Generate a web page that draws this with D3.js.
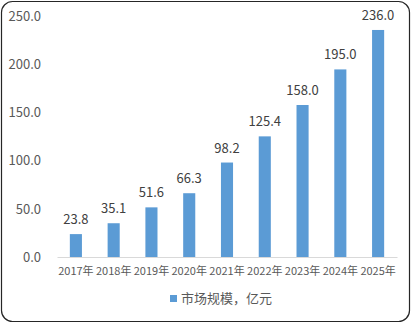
<!DOCTYPE html>
<html>
<head>
<meta charset="utf-8">
<script src="https://cdn.jsdelivr.net/npm/d3@7"></script>
<style>
  html, body { margin: 0; padding: 0; background: #fff; }
  svg { display: block; }
  text { font-family: "Noto Sans CJK SC", "Noto Sans", sans-serif; }
</style>
</head>
<body>
<svg id="chart" width="411" height="323"></svg>
<script>
// Market size by year (亿元)
const years = ["2017年", "2018年", "2019年", "2020年", "2021年", "2022年", "2023年", "2024年", "2025年"];
const marketSize = [23.8, 35.1, 51.6, 66.3, 98.2, 125.4, 158.0, 195.0, 236.0];
const yTicks = [0, 50, 100, 150, 200, 250];
const seriesName = "市场规模，亿元";

const svg = d3.select("#chart");
const W = 411, H = 323;

// outer rounded frame
svg.append("rect")
  .attr("x", 1.5).attr("y", 1.5)
  .attr("width", W - 3).attr("height", H - 3)
  .attr("rx", 11).attr("ry", 11)
  .attr("fill", "#fff")
  .attr("stroke", "#262626")
  .attr("stroke-width", 1.2);

const plot = { left: 57, right: 397, top: 16.5, bottom: 257 };

const x = d3.scaleBand()
  .domain(years)
  .range([plot.left, plot.right])
  .paddingInner(0.68)
  .paddingOuter(0.34);

const y = d3.scaleLinear()
  .domain([0, 250])
  .range([plot.bottom, plot.top]);

// y axis labels (no line, no ticks)
const yAxis = d3.axisLeft(y)
  .tickValues(yTicks)
  .tickFormat(d3.format(".1f"))
  .tickSize(0)
  .tickPadding(0);
const gy = svg.append("g")
  .attr("transform", `translate(41,0)`)
  .call(yAxis);
gy.select(".domain").remove();
gy.selectAll("text")
  .attr("fill", "#595959")
  .style("font-size", "13px");

// bars
svg.append("g").selectAll("rect")
  .data(marketSize)
  .join("rect")
  .attr("x", (d, i) => x(years[i]))
  .attr("y", d => y(d))
  .attr("width", x.bandwidth())
  .attr("height", d => y(0) - y(d))
  .attr("fill", "#5b9bd5");

// value labels
svg.append("g").selectAll("text")
  .data(marketSize)
  .join("text")
  .attr("x", (d, i) => x(years[i]) + x.bandwidth() / 2)
  .attr("y", d => y(d) - 10)
  .attr("text-anchor", "middle")
  .attr("fill", "#404040")
  .style("font-size", "13px")
  .text(d => d3.format(".1f")(d));

// x axis
const xAxis = d3.axisBottom(x).tickSize(0).tickPadding(10);
const gx = svg.append("g")
  .attr("transform", `translate(0,${plot.bottom})`)
  .call(xAxis);
gx.select(".domain")
  .attr("stroke", "#d9d9d9")
  .attr("stroke-width", 1);
gx.selectAll("text")
  .attr("fill", "#595959")
  .style("font-size", "11px");

// legend
const legend = svg.append("g").attr("transform", "translate(170,295)");
legend.append("rect")
  .attr("width", 7).attr("height", 7)
  .attr("fill", "#5b9bd5");
legend.append("text")
  .attr("x", 11).attr("y", 3.5)
  .attr("dy", "0.35em")
  .attr("fill", "#595959")
  .style("font-size", "13px")
  .text(seriesName);
</script>
</body>
</html>
